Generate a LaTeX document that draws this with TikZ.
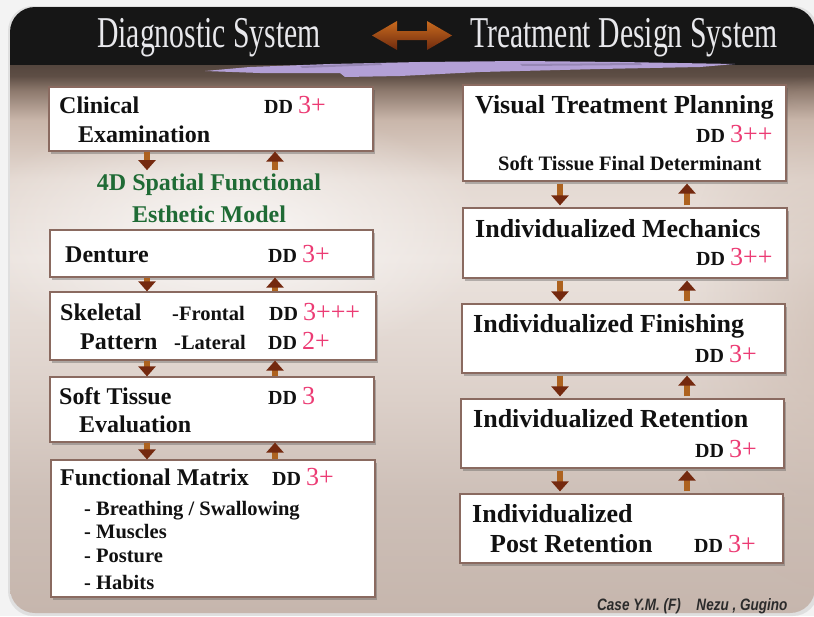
\documentclass[tikz,border=0pt]{standalone}
\usepackage{fontspec}
\setmainfont{Liberation Serif}
\setsansfont{Liberation Sans}
\usetikzlibrary{arrows.meta,shadows,fadings,calc}
\definecolor{ddpink}{HTML}{EC3B74}
\definecolor{greent}{HTML}{1F6B35}
\definecolor{boxline}{HTML}{8A6A60}
\definecolor{shaftc}{HTML}{AD621F}
\definecolor{headc}{HTML}{74290F}
\definecolor{hdrblack}{HTML}{161616}
\definecolor{streakc}{HTML}{B3A0D6}
\definecolor{txtc}{HTML}{111111}
\definecolor{hdrtxt}{HTML}{E8E8EC}
\definecolor{outerbg}{HTML}{F3F3F3}
\definecolor{bgA}{HTML}{C6B6AD}
\definecolor{bgB}{HTML}{CDBFB7}
\definecolor{bgC}{HTML}{DCD0C9}
\definecolor{bgD}{HTML}{EBE3DE}
\definecolor{bgE}{HTML}{E4D9D2}
\definecolor{bgF}{HTML}{C9B6AA}
\definecolor{bgG}{HTML}{8C786C}
\definecolor{bgH}{HTML}{5E4E45}
\definecolor{bgI}{HTML}{54463E}
\definecolor{arrtop}{HTML}{C86A1E}
\definecolor{arrbot}{HTML}{6E2A0E}
\definecolor{footc}{HTML}{2B2B2B}
\pgfdeclareverticalshading{bgshade}{100bp}{color(0bp)=(bgA); color(25bp)=(bgA); color(35.5bp)=(bgB); color(44.6bp)=(bgC); color(57.3bp)=(bgD); color(64.6bp)=(bgE); color(70bp)=(bgF); color(72.7bp)=(bgG); color(74bp)=(bgH); color(75bp)=(bgI); color(100bp)=(bgI)}
\tikzfading[name=glowfade, inner color=transparent!0, outer color=transparent!100]
\newcommand{\ddval}[1]{DD {\fontsize{26}{26}\selectfont\mdseries\color{ddpink}#1}}
\tikzset{
  boxst/.style={draw=boxline, line width=1.2pt, fill=white, inner sep=0pt,
    drop shadow={shadow xshift=2pt, shadow yshift=-2.5pt, opacity=0.35, fill=black!70}},
  lbl/.style={anchor=base west, inner sep=0pt, text=txtc, font=\bfseries\fontsize{24}{24}\selectfont},
  rlbl/.style={anchor=base west, inner sep=0pt, text=txtc, font=\bfseries\fontsize{26}{26}\selectfont},
  smlbl/.style={anchor=base west, inner sep=0pt, text=txtc, font=\bfseries\fontsize{20.5}{20.5}\selectfont},
  ddst/.style={anchor=base west, inner sep=0pt, text=txtc, font=\bfseries\fontsize{20}{20}\selectfont},
  greenlbl/.style={anchor=base, inner sep=0pt, text=greent, font=\bfseries\fontsize{24}{24}\selectfont},
  hdrlbl/.style={anchor=base west, inner sep=0pt, text=hdrtxt, font=\fontsize{44}{44}\selectfont},
  flowarr/.style={line width=5.5pt, draw=shaftc, -{Triangle[width=17pt,length=10pt,color=headc]}},
  rflowarr/.style={flowarr, shorten <=2pt, shorten >=2pt}
}
\begin{document}
\begin{tikzpicture}[x=1pt,y=-1pt]
\useasboundingbox (0,0) rectangle (814,616);
\fill[outerbg] (0,0) rectangle (814,616);
% panel
\fill[black, opacity=0.08, rounded corners=25pt] (8,6) rectangle (818,616);
\begin{scope}
\clip[rounded corners=25pt] (10,7) rectangle (815,613);
\shade[shading=bgshade] (10,65) rectangle (815,613);
\fill[white, path fading=glowfade, opacity=0.75] (230,235) ellipse (260pt and 130pt);
\fill[bgF, path fading=glowfade, opacity=0.6] (830,330) ellipse (150pt and 260pt);
\fill[hdrblack] (10,7) rectangle (815,65);
% purple brush streak
\fill[streakc] (205,71) -- (250,67) -- (330,64) -- (420,62) -- (520,61) -- (620,62) -- (735,64)
  -- (700,67) -- (600,69) -- (480,72) -- (400,76) -- (345,77) -- (340,73) -- (260,73) -- cycle;
\fill[streakc!70!black, opacity=0.5] (300,66) -- (380,63) -- (382,65) -- (302,68) -- cycle;
\fill[streakc!70!black, opacity=0.5] (520,64) -- (640,63) -- (642,65) -- (522,66) -- cycle;
\end{scope}
% header
\node[hdrlbl] (hl) at (97,47) {\scalebox{0.675}[1]{Diagnostic System}};
\node[hdrlbl] (hr) at (470,47) {\scalebox{0.675}[1]{Treatment Design System}};
\shade[top color=arrtop, bottom color=arrbot]
  (372,35.5) -- (397,21) -- (397,31) -- (427,31) -- (427,21) -- (452,35.5)
  -- (427,50) -- (427,40) -- (397,40) -- (397,50) -- cycle;
% left boxes
\node[boxst, minimum width=324pt, minimum height=64pt] (c1) at (211,119) {};
\node[boxst, minimum width=323pt, minimum height=47pt] (c2) at (211.5,253.5) {};
\node[boxst, minimum width=326pt, minimum height=68pt] (c3) at (213,326) {};
\node[boxst, minimum width=324pt, minimum height=65pt] (c4) at (212,409.5) {};
\node[boxst, minimum width=324pt, minimum height=137pt] (c5) at (213,528.5) {};
% right boxes
\node[boxst, minimum width=323pt, minimum height=96pt] (r1) at (624.5,133) {};
\node[boxst, minimum width=324pt, minimum height=70pt] (r2) at (625,243) {};
\node[boxst, minimum width=323pt, minimum height=69pt] (r3) at (623.5,338.5) {};
\node[boxst, minimum width=323pt, minimum height=69pt] (r4) at (622.5,433.5) {};
\node[boxst, minimum width=323pt, minimum height=69pt] (r5) at (621.5,528.5) {};
% left texts
\node[lbl] (t1a) at (59,113) {Clinical};
\node[lbl] (t1b) at (78,142) {Examination};
\node[ddst] (d1) at (264,113) {\ddval{3+}};
\node[greenlbl] (g1) at (209,190) {4D Spatial Functional};
\node[greenlbl] (g2) at (209,222) {Esthetic Model};
\node[lbl] (t2) at (65,262) {Denture};
\node[ddst] (d2) at (268,262) {\ddval{3+}};
\node[lbl] (t3a) at (60,320) {Skeletal};
\node[smlbl] (t3b) at (172,320) {-Frontal};
\node[ddst] (d3a) at (269,320) {\ddval{3+++}};
\node[lbl] (t3c) at (80,349) {Pattern};
\node[smlbl] (t3d) at (174,349) {-Lateral};
\node[ddst] (d3b) at (268,349) {\ddval{2+}};
\node[lbl] (t4a) at (59,404) {Soft Tissue};
\node[ddst] (d4) at (268,404) {\ddval{3}};
\node[lbl] (t4b) at (79,432) {Evaluation};
\node[lbl] (t5) at (60,485) {Functional Matrix};
\node[ddst] (d5) at (272,485) {\ddval{3+}};
\node[smlbl] (s1) at (84,515) {- Breathing / Swallowing};
\node[smlbl] (s2) at (84,538) {- Muscles};
\node[smlbl] (s3) at (84,562) {- Posture};
\node[smlbl] (s4) at (84,589) {- Habits};
% right texts
\node[rlbl] (u1) at (475,113) {Visual Treatment Planning};
\node[ddst] (e1) at (696,142) {\ddval{3++}};
\node[smlbl] (u1b) at (498,170) {Soft Tissue Final Determinant};
\node[rlbl] (u2) at (475,237) {Individualized Mechanics};
\node[ddst] (e2) at (696,265) {\ddval{3++}};
\node[rlbl] (u3) at (473,332) {Individualized Finishing};
\node[ddst] (e3) at (695,362) {\ddval{3+}};
\node[rlbl] (u4) at (473,427) {Individualized Retention};
\node[ddst] (e4) at (695,457) {\ddval{3+}};
\node[rlbl] (u5a) at (472,522) {Individualized};
\node[rlbl] (u5b) at (490,552) {Post Retention};
\node[ddst] (e5) at (694,552) {\ddval{3+}};
% footer
\node[anchor=base west, inner sep=0pt, text=footc, font=\sffamily\bfseries\itshape\fontsize{16.5}{16.5}\selectfont] (ft) at (597,610) {\scalebox{0.82}[1]{Case Y.M. (F)\hspace{19pt}Nezu , Gugino}};
% arrow columns
\coordinate (ld) at (147,0);
\coordinate (lu) at (275,0);
\coordinate (rd) at (560,0);
\coordinate (ru) at (687,0);
% left arrows
\draw[flowarr, shorten >=3pt] (c1.south -| ld) -- (g1.north -| ld);
\draw[flowarr, shorten <=3pt] (g1.north -| lu) -- (c1.south -| lu);
\draw[flowarr] (c2.south -| ld) -- (c3.north -| ld);
\draw[flowarr] (c3.north -| lu) -- (c2.south -| lu);
\draw[flowarr] (c3.south -| ld) -- (c4.north -| ld);
\draw[flowarr] (c4.north -| lu) -- (c3.south -| lu);
\draw[flowarr] (c4.south -| ld) -- (c5.north -| ld);
\draw[flowarr] (c5.north -| lu) -- (c4.south -| lu);
% right arrows
\draw[rflowarr] (r1.south -| rd) -- (r2.north -| rd);
\draw[rflowarr] (r2.north -| ru) -- (r1.south -| ru);
\draw[rflowarr] (r2.south -| rd) -- (r3.north -| rd);
\draw[rflowarr] (r3.north -| ru) -- (r2.south -| ru);
\draw[rflowarr] (r3.south -| rd) -- (r4.north -| rd);
\draw[rflowarr] (r4.north -| ru) -- (r3.south -| ru);
\draw[rflowarr] (r4.south -| rd) -- (r5.north -| rd);
\draw[rflowarr] (r5.north -| ru) -- (r4.south -| ru);
\end{tikzpicture}
\end{document}
